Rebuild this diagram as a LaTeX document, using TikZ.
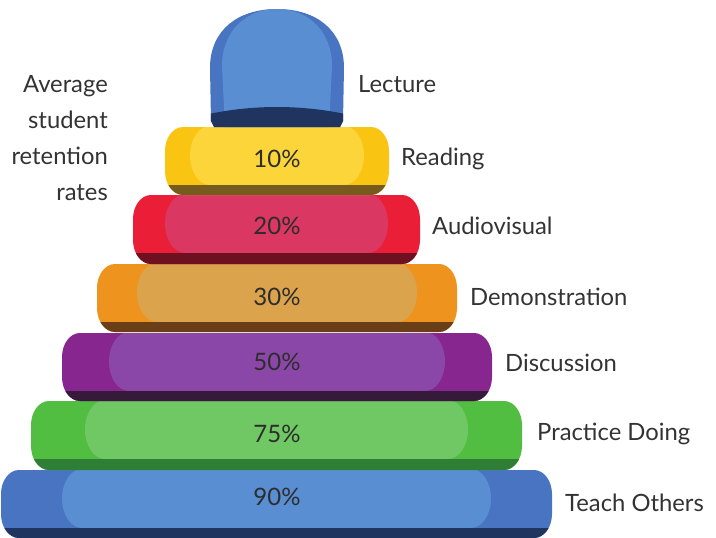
\documentclass[tikz,border=0pt]{standalone}
\usepackage{fontspec}
\setmainfont{Lato}
\definecolor{txt}{HTML}{333333}
\definecolor{pct}{HTML}{2D2D2D}
\definecolor{blO}{HTML}{4874C1}\definecolor{blI}{HTML}{5A8ED3}\definecolor{blB}{HTML}{1F3560}
\definecolor{grO}{HTML}{52BE41}\definecolor{grI}{HTML}{6FC864}\definecolor{grB}{HTML}{2E7E36}
\definecolor{puO}{HTML}{88268F}\definecolor{puI}{HTML}{8B47A7}\definecolor{puB}{HTML}{361A3A}
\definecolor{orO}{HTML}{EF931F}\definecolor{orI}{HTML}{DBA34B}\definecolor{orB}{HTML}{6A3E17}
\definecolor{reO}{HTML}{EA1E37}\definecolor{reI}{HTML}{DA3762}\definecolor{reB}{HTML}{6D1020}
\definecolor{yeO}{HTML}{F9C412}\definecolor{yeI}{HTML}{FCD53A}\definecolor{yeB}{HTML}{775A1D}
\def\rx{18}\def\ry{24}\def\ri{20}
% #1 L, #2 R, #3 T, #4 band top, #5 B, #6 inset, #7 outer, #8 inner, #9 band
\newcommand\tier[9]{%
  \begin{scope}
    \path[clip] (#1+\rx,#3) -- (#2-\rx,#3)
      arc[start angle=-90,end angle=0,x radius=\rx,y radius=\ry] -- (#2,#5-\ry)
      arc[start angle=0,end angle=90,x radius=\rx,y radius=\ry] -- (#1+\rx,#5)
      arc[start angle=90,end angle=180,x radius=\rx,y radius=\ry] -- (#1,#3+\ry)
      arc[start angle=180,end angle=270,x radius=\rx,y radius=\ry] -- cycle;
    \fill[#7] (#1-2,#3-2) rectangle (#2+2,#5+2);
    \fill[#8] (#1+#6+\ri,#3-1) -- (#2-#6-\ri,#3-1)
      arc[start angle=-90,end angle=90,x radius=\ri,y radius={(#4-#3+1)/2}] -- (#1+#6+\ri,#4)
      arc[start angle=90,end angle=270,x radius=\ri,y radius={(#4-#3+1)/2}] -- cycle;
    \fill[#9] (#1-2,#4) rectangle (#2+2,#5+2);
  \end{scope}}
\tikzset{
  lbl/.style={anchor=west,inner sep=0pt,text=txt,font=\fontsize{23.8}{28}\selectfont},
  pctlbl/.style={anchor=center,inner sep=0pt,text=pct,font=\fontsize{24}{28}\selectfont}
}
\begin{document}
\begin{tikzpicture}[x=1pt,y=1pt,yscale=-1]
\useasboundingbox (0,0) rectangle (716,538);
% tiers bottom to top
\tier{1}{552}{470}{528}{538}{61}{blO}{blI}{blB}
\tier{31}{522}{401}{459}{470}{54}{grO}{grI}{grB}
\tier{62}{492}{333}{391}{401}{47}{puO}{puI}{puB}
\tier{97}{457}{264}{322}{332}{40}{orO}{orI}{orB}
\tier{133}{420}{195}{253}{264}{32}{reO}{reI}{reB}
\tier{165}{389}{127}{185}{195}{25}{yeO}{yeI}{yeB}
% dome
\begin{scope}
  \path[clip] (214,127) -- (211,121) -- (210,68) .. controls (210,30) and (238,9) .. (277,9)
     .. controls (316,9) and (344,30) .. (344,68) -- (343,121) -- (340,127) -- cycle;
  \fill[blO] (200,0) rectangle (350,130);
  \fill[blI] (225,127) -- (222,66) .. controls (222,32) and (245,9) .. (277,9)
     .. controls (309,9) and (332,32) .. (332,66) -- (329,127) -- cycle;
  \fill[blB] (200,116) .. controls (250,104) and (304,104) .. (354,116) -- (354,130) -- (200,130) -- cycle;
\end{scope}
% left text
\node[anchor=east,inner sep=0pt,align=right,text=txt,font=\fontsize{23.8}{36}\selectfont] (title) at (108,138)
  {Average\\student\\retention\hspace*{5pt}\\rates};
% percentages
\node[pctlbl] (p10) at (277,159) {10\%};
\node[pctlbl] (p20) at (277,226) {20\%};
\node[pctlbl] (p30) at (277,297) {30\%};
\node[pctlbl] (p50) at (277,362) {50\%};
\node[pctlbl] (p75) at (277,434) {75\%};
\node[pctlbl] (p90) at (277,497) {90\%};
% labels
\node[lbl] (l1) at (358,84) {Lecture};
\node[lbl] (l2) at (401,159) {Reading};
\node[lbl] (l3) at (432,226) {Audiovisual};
\node[lbl] (l4) at (470,297) {Demonstration};
\node[lbl] (l5) at (505,363) {Discussion};
\node[lbl] (l6) at (537,434) {Practice Doing};
\node[lbl] (l7) at (565,503) {Teach Others};
\end{tikzpicture}
\end{document}
